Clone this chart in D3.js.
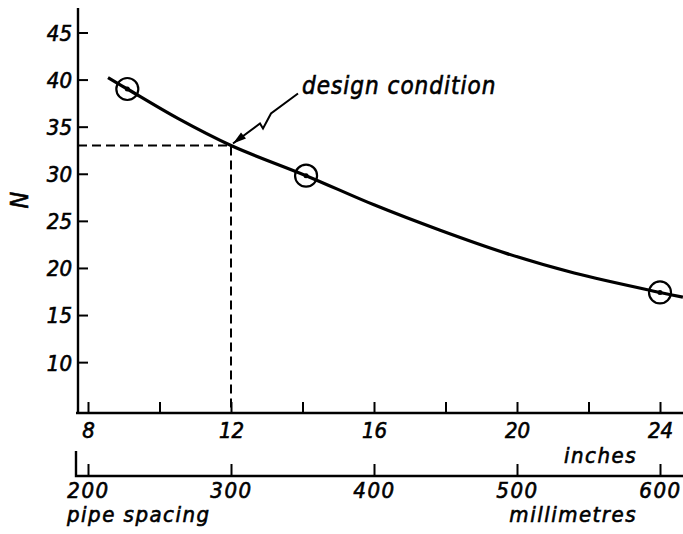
<!DOCTYPE html>
<html>
<head>
<meta charset="utf-8">
<script src="https://cdn.jsdelivr.net/npm/d3@7"></script>
<style>
  body { margin: 0; background: #fff; }
  text { font-family: "DejaVu Sans Condensed", "DejaVu Sans", sans-serif; font-style: italic; fill: #000; stroke: #000; stroke-width: 0.6px; }
</style>
</head>
<body>
<div id="chart"></div>
<script>
// values
const curveInches = [8.56, 9.1, 10.5, 12, 14.1, 16, 17.85, 19.7, 21.6, 24, 24.64];
const curveN = [40.2, 39.0, 35.9, 33.0, 29.8, 26.7, 24.0, 21.55, 19.46, 17.4, 16.9];
const pointInches = [9.1, 14.1, 24];
const pointN = [39.0, 29.8, 17.4];
const designInches = 12;
const designN = 33;
const yTicks = [10, 15, 20, 25, 30, 35, 40, 45];
const inchTicks = [8, 10, 12, 14, 16, 18, 20, 22, 24];
const mmTicks = [200, 300, 400, 500, 600];

const width = 683, height = 534;

const svg = d3.select("#chart").append("svg")
    .attr("width", width)
    .attr("height", height);

const x = d3.scaleLinear().domain([8, 24]).range([88, 660]);
const xmm = d3.scaleLinear().domain([200, 600]).range([88, 660]);
const y = d3.scaleLinear().domain([4.6, 47.6]).range([413, 8]);

const axisX = 78, baseY = 413, mmY = 476;

// y axis
const yAxis = svg.append("g")
    .attr("transform", `translate(${axisX},0)`)
    .call(d3.axisLeft(y).tickValues(yTicks).tickSize(-10).tickPadding(6));
yAxis.select(".domain").remove();
yAxis.selectAll("line").attr("stroke", "#000").attr("stroke-width", 2);
yAxis.selectAll("text").style("font-size", "22px").attr("dy", "0.36em");

svg.append("line")
    .attr("x1", axisX).attr("x2", axisX)
    .attr("y1", 8).attr("y2", baseY + 1)
    .attr("stroke", "#000").attr("stroke-width", 2.4);

svg.append("text")
    .attr("transform", `translate(28,200) rotate(-90)`)
    .attr("text-anchor", "middle")
    .style("font-size", "25px")
    .text("N");

// inches axis
const xAxis = svg.append("g")
    .attr("transform", `translate(0,${baseY})`)
    .call(d3.axisBottom(x).tickValues(inchTicks).tickSize(-11).tickPadding(9)
        .tickFormat(d => d % 4 === 0 ? d : ""));
xAxis.select(".domain").remove();
xAxis.selectAll("line").attr("stroke", "#000").attr("stroke-width", 2);
xAxis.selectAll("text").style("font-size", "22px");

svg.append("line")
    .attr("x1", axisX - 2).attr("x2", width)
    .attr("y1", baseY).attr("y2", baseY)
    .attr("stroke", "#000").attr("stroke-width", 2.4);

svg.append("text")
    .attr("x", 637).attr("y", 463)
    .attr("text-anchor", "end")
    .style("font-size", "22px")
    .style("letter-spacing", "1.5px")
    .text("inches");

// millimetres axis
const mmAxis = svg.append("g")
    .attr("transform", `translate(0,${mmY})`)
    .call(d3.axisBottom(xmm).tickValues(mmTicks).tickSize(-12).tickPadding(6));
mmAxis.select(".domain").remove();
mmAxis.selectAll("line").attr("stroke", "#000").attr("stroke-width", 2);
mmAxis.selectAll("text").style("font-size", "22px").style("letter-spacing", "1.5px");

svg.append("path")
    .attr("d", `M${axisX - 2},${mmY - 25}V${mmY}H${width}`)
    .attr("fill", "none")
    .attr("stroke", "#000").attr("stroke-width", 2.4);

svg.append("text")
    .attr("x", 67).attr("y", 522)
    .style("font-size", "22px")
    .style("letter-spacing", "1.5px")
    .text("pipe spacing");

svg.append("text")
    .attr("x", 637).attr("y", 522)
    .attr("text-anchor", "end")
    .style("font-size", "22px")
    .style("letter-spacing", "1.5px")
    .text("millimetres");

// design condition dashed guides
svg.append("path")
    .attr("d", `M${axisX},${y(designN)}H${x(designInches)}V${baseY}`)
    .attr("fill", "none")
    .attr("stroke", "#000")
    .attr("stroke-width", 2)
    .attr("stroke-dasharray", "9,5");

// curve
const line = d3.line()
    .x((d, i) => x(curveInches[i]))
    .y(d => y(d))
    .curve(d3.curveCatmullRom);

svg.append("path")
    .datum(curveN)
    .attr("d", line)
    .attr("fill", "none")
    .attr("stroke", "#000")
    .attr("stroke-width", 3.2);

// measured points
svg.selectAll(".pt")
    .data(pointN)
    .enter().append("circle")
    .attr("class", "pt")
    .attr("cx", (d, i) => x(pointInches[i]))
    .attr("cy", d => y(d))
    .attr("r", 11)
    .attr("fill", "none")
    .attr("stroke", "#000")
    .attr("stroke-width", 2.2);

svg.selectAll(".dot")
    .data(pointN)
    .enter().append("circle")
    .attr("class", "dot")
    .attr("cx", (d, i) => x(pointInches[i]))
    .attr("cy", d => y(d))
    .attr("r", 2.5)
    .attr("fill", "#000");

// leader with break and arrow
const tx = x(designInches) + 2, ty = y(designN) - 2;
svg.append("path")
    .attr("d", `M${tx},${ty}L${tx + 27},${ty - 20}L${tx + 30},${ty - 15}L${tx + 38},${ty - 30}L${tx + 65},${ty - 50}`)
    .attr("fill", "none")
    .attr("stroke", "#000")
    .attr("stroke-width", 2);

svg.append("path")
    .attr("d", `M${tx},${ty}L${tx + 8},${ty - 11}L${tx + 13},${ty - 5}Z`)
    .attr("fill", "#000");

svg.append("text")
    .attr("x", 302).attr("y", 94)
    .style("font-size", "24px")
    .style("letter-spacing", "1px")
    .text("design condition");
</script>
</body>
</html>
